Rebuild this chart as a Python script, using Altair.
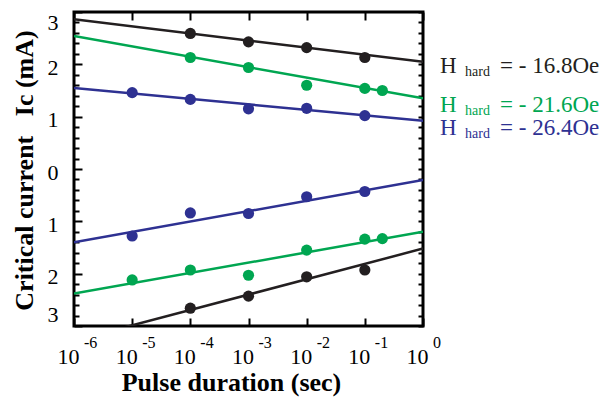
import altair as alt
import pandas as pd

SERIF = "Liberation Serif"
BLACK = "#231f20"
GREEN = "#00a651"
BLUE = "#2e3192"

# ---- data ----
fields = ["16.8", "21.6", "26.4"]          # |H_hard| in Oe
colors = [BLACK, GREEN, BLUE]

# positive branch (upper half)
black_top_t = [1e-4, 1e-3, 1e-2, 1e-1]
black_top_ic = [2.59, 2.43, 2.32, 2.13]
green_top_t = [1e-4, 1e-3, 1e-2, 1e-1, 0.2]
green_top_ic = [2.13, 1.94, 1.60, 1.54, 1.50]
blue_top_t = [1e-5, 1e-4, 1e-3, 1e-2, 1e-1]
blue_top_ic = [1.46, 1.33, 1.15, 1.16, 1.02]

# negative branch (lower half)
blue_bot_t = [1e-5, 1e-4, 1e-3, 1e-2, 1e-1]
blue_bot_ic = [-1.28, -0.84, -0.85, -0.53, -0.43]
green_bot_t = [1e-5, 1e-4, 1e-3, 1e-2, 1e-1, 0.2]
green_bot_ic = [-2.12, -1.93, -2.03, -1.55, -1.34, -1.33]
black_bot_t = [1e-4, 1e-3, 1e-2, 1e-1]
black_bot_ic = [-2.66, -2.43, -2.06, -1.93]

# fitted lines: value at t = 1e-6 and at t = 1
fit_t = [1e-6, 1.0]
black_top_fit = [2.86, 2.05]
green_top_fit = [2.54, 1.35]
blue_top_fit = [1.55, 0.92]
blue_bot_fit = [-1.40, -0.21]
green_bot_fit = [-2.38, -1.20]
black_bot_fit = [-3.28, -1.52]

decades = [1e-6, 1e-5, 1e-4, 1e-3, 1e-2, 1e-1, 1.0]
exponents = ["-6", "-5", "-4", "-3", "-2", "-1", "0"]
y_major = [-3, -2, -1, 0, 1, 2, 3]
y_minor = [round(-3 + 0.2 * i, 1) for i in range(31)]

legend_sub = "hard"
legend_values = ["= - 16.8Oe", "= - 21.6Oe", "= - 26.4Oe"]

# ---- tables ----
pts = []
for f, br, ts, ics in [
    ("16.8", "top", black_top_t, black_top_ic),
    ("21.6", "top", green_top_t, green_top_ic),
    ("26.4", "top", blue_top_t, blue_top_ic),
    ("26.4", "bot", blue_bot_t, blue_bot_ic),
    ("21.6", "bot", green_bot_t, green_bot_ic),
    ("16.8", "bot", black_bot_t, black_bot_ic),
]:
    for t, ic in zip(ts, ics):
        pts.append({"t": t, "ic": ic, "field": f, "key": f + br})
pts_df = pd.DataFrame(pts)

fits = []
for f, br, vals in [
    ("16.8", "top", black_top_fit),
    ("21.6", "top", green_top_fit),
    ("26.4", "top", blue_top_fit),
    ("26.4", "bot", blue_bot_fit),
    ("21.6", "bot", green_bot_fit),
    ("16.8", "bot", black_bot_fit),
]:
    for t, v in zip(fit_t, vals):
        fits.append({"t": t, "ic": v, "field": f, "key": f + br})
fit_df = pd.DataFrame(fits)

exp_df = pd.DataFrame({"t": decades, "exp": exponents})

# ---- scales ----
xs = alt.Scale(type="log", domain=[1e-6, 1.0], nice=False)
ys = alt.Scale(domain=[-3, 3], nice=False, zero=False)
cs = alt.Scale(domain=fields, range=colors)

W, H = 349, 314

# ---- axes ----
x_bottom = alt.Axis(
    orient="bottom", offset=-8, tickSize=8, tickWidth=2, tickColor="black",
    domain=False, grid=False, values=decades, labelExpr="'10'",
    labelFont=SERIF, labelFontSize=22, labelColor="black",
    labelBaseline="alphabetic", labelPadding=37, labelOffset=-6,
    labelFlush=False, labelOverlap=False,
    title="Pulse duration (sec)", titleFont=SERIF, titleFontSize=26,
    titleFontWeight="bold", titleColor="black",
    titleX=157, titleY=72, titleAlign="center", titleBaseline="alphabetic",
)
x_top = alt.Axis(
    orient="top", offset=-8, tickSize=8, tickWidth=2, tickColor="black",
    domain=False, grid=False, values=decades, labels=False, title=None,
)
y_labels = alt.Axis(
    orient="left", values=y_major, ticks=False, domain=False, grid=False,
    labelExpr="abs(datum.value)", labelFont=SERIF, labelFontSize=22,
    labelColor="black", labelPadding=16, labelFlush=True,
    labelOffset={"condition": {"test": "abs(datum.value) < 3", "value": 3}, "value": 0},
    title="Critical current\u00a0\u00a0 Ic (mA)", titleFont=SERIF,
    titleFontSize=26, titleFontWeight="bold", titleColor="black",
    titleX=-42, titleY=158, titleBaseline="alphabetic", titleAlign="center",
)
y_left_ticks = alt.Axis(
    orient="right", offset=-W, values=y_minor, labels=False, domain=False,
    grid=False, title=None, tickWidth=2, tickColor="black",
    tickSize={"condition": {"test": "datum.value % 1 === 0", "value": 8}, "value": 5},
)
y_right_ticks = alt.Axis(
    orient="left", offset=-W, values=y_minor, labels=False, domain=False,
    grid=False, title=None, tickWidth=2, tickColor="black", tickSize=5,
)

lines = alt.Chart(fit_df).mark_line(clip=True, strokeWidth=2.5).encode(
    x=alt.X("t:Q", scale=xs, axis=x_bottom),
    y=alt.Y("ic:Q", scale=ys, axis=y_labels),
    color=alt.Color("field:N", scale=cs, legend=None),
    detail="key:N",
)

points = alt.Chart(pts_df).mark_circle(size=125, opacity=1).encode(
    x=alt.X("t:Q", scale=xs, axis=x_top),
    y=alt.Y("ic:Q", scale=ys, axis=y_left_ticks),
    color=alt.Color("field:N", scale=cs, legend=None),
)

exps = alt.Chart(exp_df).transform_calculate(base="-3").mark_text(
    align="left", baseline="alphabetic", dx=10, dy=22,
    font=SERIF, fontSize=16, color="black",
).encode(
    x=alt.X("t:Q", scale=xs, axis=None),
    y=alt.Y("base:Q", scale=ys, axis=y_right_ticks),
    text="exp:N",
)

legend_layers = []
legend_baselines = [61, 100, 123]
for val, col, yb in zip(legend_values, colors, legend_baselines):
    row = pd.DataFrame({"h": ["H"], "sub": [legend_sub], "val": [val]})
    legend_layers.append(
        alt.Chart(row).mark_text(align="left", baseline="alphabetic", font=SERIF,
                                 fontSize=23, color=col)
        .encode(x=alt.value(366), y=alt.value(yb), text="h:N"))
    legend_layers.append(
        alt.Chart(row).mark_text(align="left", baseline="alphabetic", font=SERIF,
                                 fontSize=14, color=col)
        .encode(x=alt.value(391), y=alt.value(yb + 3), text="sub:N"))
    legend_layers.append(
        alt.Chart(row).mark_text(align="left", baseline="alphabetic", font=SERIF,
                                 fontSize=23, color=col)
        .encode(x=alt.value(426), y=alt.value(yb), text="val:N"))

chart = (
    alt.layer(lines, points, exps, *legend_layers)
    .resolve_axis(x="independent", y="independent")
    .properties(
        width=W, height=H,
        autosize=alt.AutoSizeParams(type="none"),
        padding={"left": 74, "top": 12, "right": 179, "bottom": 73},
        background="white",
    )
    .configure_view(stroke="black", strokeWidth=3)
)

chart.save("out.html", embed_options={"renderer": "svg", "actions": False})
